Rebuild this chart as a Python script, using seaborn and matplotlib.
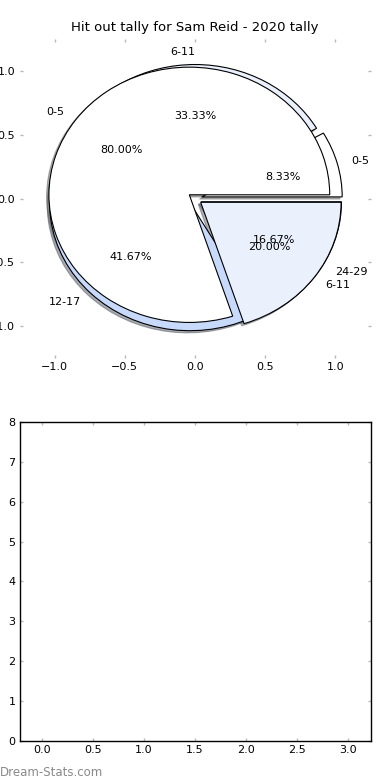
import matplotlib
matplotlib.use("Agg")

import matplotlib.pyplot as plt
import seaborn as sns

TITLE = "Hit out tally for Sam Reid - 2020 tally"

# first pie (drawn underneath)
tally_labels = ["0-5", "6-11", "12-17", "24-29"]
tally_counts = [1, 4, 5, 2]

# second pie (drawn on top)
split_labels = ["0-5", "6-11"]
split_counts = [4, 1]

pie_ticks = [-1.0, -0.5, 0.0, 0.5, 1.0]
bottom_xticks = [0.0, 0.5, 1.0, 1.5, 2.0, 2.5, 3.0]
bottom_yticks = [0, 1, 2, 3, 4, 5, 6, 7, 8]

band_colours = {
    "0-5": "white",
    "6-11": "#eaf1fd",
    "12-17": "#c8dafc",
    "24-29": "#a9c5fa",
}

sns.set_theme(style="white")
plt.rcParams.update({
    "font.family": ["DejaVu Sans"],
    "text.color": "black",
    "axes.titlecolor": "black",
    "xtick.direction": "in",
    "ytick.direction": "in",
    "xtick.top": True,
    "ytick.right": True,
    "xtick.bottom": True,
    "ytick.left": True,
    "xtick.labelsize": 8,
    "ytick.labelsize": 8,
    "xtick.major.size": 2.5,
    "ytick.major.size": 2.5,
    "xtick.major.width": 1,
    "ytick.major.width": 1,
    "xtick.color": "#b8b8b8",
    "ytick.color": "#b8b8b8",
    "xtick.labelcolor": "black",
    "ytick.labelcolor": "black",
    "xtick.major.pad": 3,
    "ytick.major.pad": 3,
    "axes.edgecolor": "black",
    "axes.linewidth": 1,
})

fig, (ax, ax2) = plt.subplots(2, 1, figsize=(3.9, 7.8), dpi=100)
fig.subplots_adjust(left=0.05, right=0.95, bottom=0.05, top=0.95, hspace=0.2)

wedge_style = {"edgecolor": "black", "linewidth": 0.8}
text_style = {"fontsize": 8, "color": "black"}
shadow_style = {"ox": -0.012, "oy": -0.012, "shade": 0.6}

ax.pie(tally_counts, labels=tally_labels, autopct="%.2f%%",
       explode=[0.05] * len(tally_counts), shadow=shadow_style,
       colors=[band_colours[l] for l in tally_labels],
       wedgeprops=wedge_style, textprops=text_style)
ax.pie(split_counts, labels=split_labels, autopct="%.2f%%",
       explode=[0.05] * len(split_counts), shadow=shadow_style,
       colors=[band_colours[l] for l in split_labels],
       wedgeprops=wedge_style, textprops=text_style)

ax.set_aspect("auto")
ax.set_frame_on(False)
ax.set_xlim(-1.25, 1.25)
ax.set_ylim(-1.25, 1.25)
ax.set_xticks(pie_ticks)
ax.set_yticks(pie_ticks)
ax.set_title(TITLE, fontsize=9.5)

ax2.set_xlim(-0.225, 3.225)
ax2.set_ylim(0, 8)
ax2.set_xticks(bottom_xticks)
ax2.set_yticks(bottom_yticks)
for s in ax2.spines.values():
    s.set_visible(True)

fig.text(0.0, 0.005, "Dream-Stats.com", color="#8a8a8a", fontsize=8.5)

plt.savefig("out.png", dpi=100)
